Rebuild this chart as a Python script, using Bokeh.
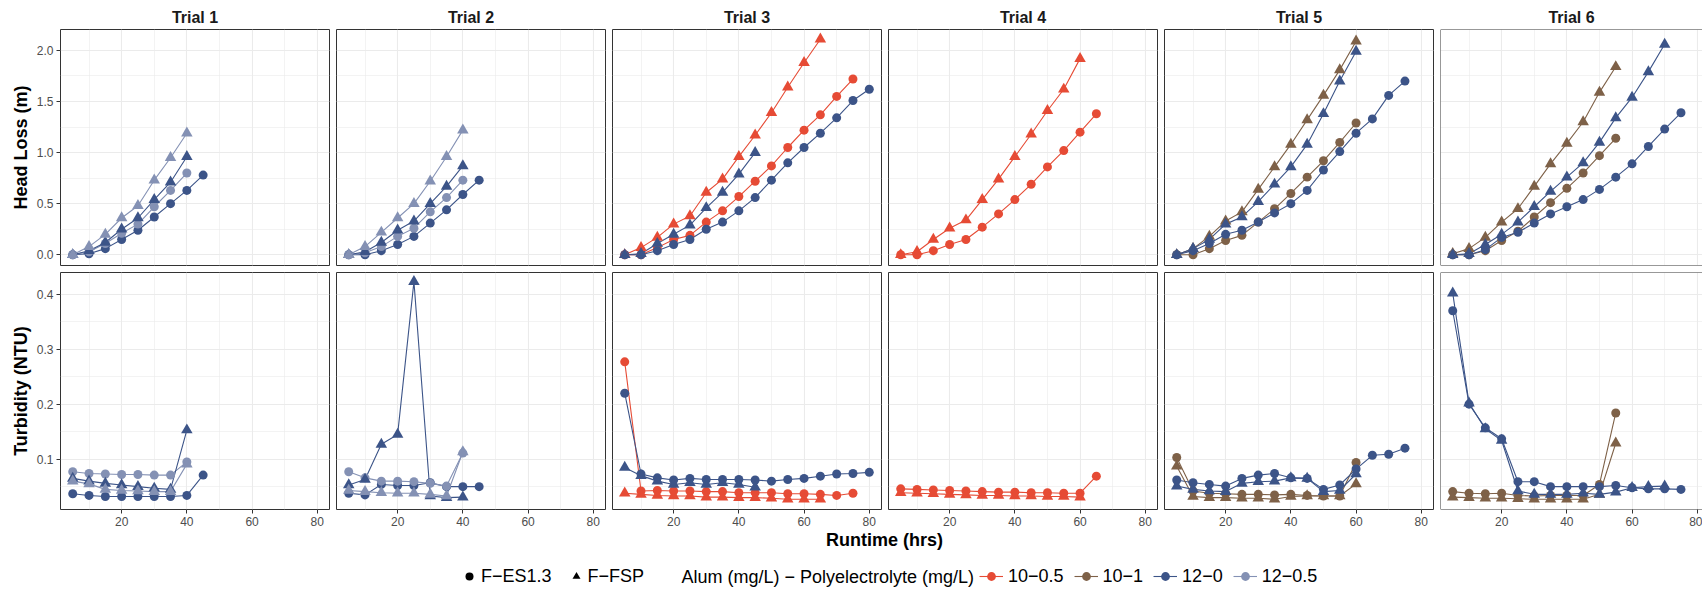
from bokeh.plotting import figure
from bokeh.layouts import column, row
from bokeh.models import (Range1d, LinearAxis, Grid, FixedTicker, PrintfTickFormatter,
                          Span, Label, Legend, LegendItem)
from bokeh.embed import file_html
from bokeh.resources import INLINE

FONT = "Liberation Sans"

# ---------------- data ----------------
RUNTIME = [5, 10, 15, 20, 25, 30, 35, 40, 45, 50, 55, 60, 65, 70, 75, 80]
TRIALS = ["Trial 1", "Trial 2", "Trial 3", "Trial 4", "Trial 5", "Trial 6"]
FILTERS = ["F\u2212ES1.3", "F\u2212FSP"]
FILTER_MARKERS = ["circle", "triangle"]
DOSES = ["10\u22120.5", "10\u22121", "12\u22120", "12\u22120.5"]
DOSE_COLORS = ["#E64B35", "#7E6148", "#3C5488", "#8491B4"]
HL_TICKS = [0.0, 0.5, 1.0, 1.5, 2.0]
HL_MINOR = [0.25, 0.75, 1.25, 1.75]
TURB_TICKS = [0.1, 0.2, 0.3, 0.4]
TURB_MINOR = [0.05, 0.15, 0.25, 0.35]
TIME_TICKS = [20, 40, 60, 80]
TIME_MINOR = [10, 30, 50, 70]
ROW_TITLES = ["Head Loss (m)", "Turbidity (NTU)"]
X_TITLE = "Runtime (hrs)"
LEGEND_TITLE = "Alum (mg/L) \u2212 Polyelectrolyte (mg/L)"

# Trial 1
T1_HL_ES_12_0 = [0.0, 0.01, 0.06, 0.15, 0.24, 0.37, 0.50, 0.63, 0.78]
T1_HL_ES_12_05 = [0.0, 0.03, 0.11, 0.21, 0.30, 0.47, 0.63, 0.80]
T1_HL_FSP_12_0 = [0.0, 0.04, 0.12, 0.25, 0.36, 0.54, 0.71, 0.96]
T1_HL_FSP_12_05 = [0.0, 0.08, 0.20, 0.36, 0.48, 0.73, 0.95, 1.19]
T1_TU_ES_12_0 = [0.037, 0.034, 0.032, 0.032, 0.032, 0.032, 0.032, 0.034, 0.071]
T1_TU_ES_12_05 = [0.077, 0.074, 0.073, 0.072, 0.072, 0.071, 0.071, 0.095]
T1_TU_FSP_12_0 = [0.065, 0.060, 0.056, 0.053, 0.050, 0.047, 0.045, 0.153]
T1_TU_FSP_12_05 = [0.060, 0.055, 0.045, 0.043, 0.042, 0.041, 0.041, 0.091]
# Trial 2
T2_HL_ES_12_0 = [0.0, 0.0, 0.04, 0.10, 0.18, 0.31, 0.44, 0.59, 0.73]
T2_HL_ES_12_05 = [0.0, 0.02, 0.08, 0.18, 0.26, 0.42, 0.56, 0.73]
T2_HL_FSP_12_0 = [0.0, 0.03, 0.12, 0.24, 0.33, 0.50, 0.67, 0.87]
T2_HL_FSP_12_05 = [0.0, 0.08, 0.22, 0.36, 0.50, 0.72, 0.96, 1.22]
T2_TU_ES_12_0 = [0.038, 0.035, 0.054, 0.052, 0.052, 0.057, 0.050, 0.050, 0.050]
T2_TU_ES_12_05 = [0.077, 0.066, 0.060, 0.060, 0.059, 0.056, 0.051, 0.111]
T2_TU_FSP_12_0 = [0.053, 0.063, 0.127, 0.145, 0.423, 0.033, 0.030, 0.031]
T2_TU_FSP_12_05 = [0.043, 0.041, 0.039, 0.038, 0.038, 0.036, 0.033, 0.113]
# Trial 3
T3_HL_ES_10_05 = [0.0, 0.0, 0.07, 0.15, 0.19, 0.32, 0.43, 0.57, 0.72, 0.87, 1.05, 1.22, 1.37, 1.55, 1.72]
T3_HL_ES_12_0 = [0.0, 0.0, 0.04, 0.10, 0.15, 0.25, 0.32, 0.43, 0.56, 0.73, 0.90, 1.05, 1.19, 1.34, 1.51, 1.62]
T3_HL_FSP_10_05 = [0.0, 0.07, 0.17, 0.30, 0.38, 0.61, 0.74, 0.96, 1.17, 1.39, 1.64, 1.88, 2.11]
T3_HL_FSP_12_0 = [0.0, 0.01, 0.11, 0.20, 0.29, 0.46, 0.61, 0.79, 1.00]
T3_TU_ES_10_05 = [0.277, 0.042, 0.043, 0.042, 0.042, 0.041, 0.041, 0.039, 0.039, 0.039, 0.037, 0.037, 0.036, 0.034, 0.038]
T3_TU_ES_12_0 = [0.220, 0.073, 0.066, 0.062, 0.065, 0.063, 0.063, 0.063, 0.062, 0.060, 0.063, 0.065, 0.069, 0.073, 0.074, 0.076]
T3_TU_FSP_10_05 = [0.038, 0.036, 0.034, 0.033, 0.033, 0.031, 0.031, 0.030, 0.030, 0.029, 0.027, 0.027, 0.027]
T3_TU_FSP_12_0 = [0.085, 0.070, 0.060, 0.054, 0.057, 0.054, 0.057, 0.054, 0.049]
# Trial 4
T4_HL_ES_10_05 = [0.0, 0.0, 0.04, 0.10, 0.15, 0.27, 0.40, 0.54, 0.69, 0.86, 1.02, 1.20, 1.38]
T4_HL_FSP_10_05 = [0.0, 0.03, 0.15, 0.26, 0.34, 0.54, 0.74, 0.96, 1.18, 1.41, 1.62, 1.92]
T4_TU_ES_10_05 = [0.046, 0.045, 0.044, 0.043, 0.042, 0.041, 0.040, 0.040, 0.039, 0.039, 0.038, 0.038, 0.069]
T4_TU_FSP_10_05 = [0.039, 0.038, 0.037, 0.036, 0.035, 0.034, 0.034, 0.033, 0.033, 0.032, 0.032, 0.031]
# Trial 5
T5_HL_ES_10_1 = [0.0, 0.0, 0.06, 0.14, 0.19, 0.32, 0.45, 0.60, 0.76, 0.92, 1.10, 1.29]
T5_HL_ES_12_0 = [0.0, 0.04, 0.11, 0.20, 0.24, 0.32, 0.41, 0.50, 0.63, 0.83, 1.01, 1.19, 1.33, 1.56, 1.70]
T5_HL_FSP_10_1 = [0.0, 0.06, 0.18, 0.33, 0.42, 0.64, 0.86, 1.08, 1.32, 1.56, 1.81, 2.09]
T5_HL_FSP_12_0 = [0.0, 0.06, 0.15, 0.30, 0.37, 0.52, 0.69, 0.86, 1.08, 1.38, 1.70, 1.99]
T5_TU_ES_10_1 = [0.103, 0.042, 0.038, 0.037, 0.036, 0.036, 0.035, 0.036, 0.034, 0.033, 0.033, 0.094]
T5_TU_ES_12_0 = [0.062, 0.057, 0.054, 0.051, 0.065, 0.071, 0.074, 0.066, 0.065, 0.045, 0.053, 0.082, 0.107, 0.109, 0.120]
T5_TU_FSP_10_1 = [0.087, 0.032, 0.030, 0.030, 0.029, 0.029, 0.027, 0.032, 0.033, 0.033, 0.033, 0.055]
T5_TU_FSP_12_0 = [0.051, 0.045, 0.042, 0.041, 0.056, 0.059, 0.060, 0.066, 0.065, 0.041, 0.043, 0.073]
# Trial 6
T6_HL_ES_10_1 = [0.0, 0.0, 0.04, 0.14, 0.23, 0.37, 0.51, 0.65, 0.80, 0.97, 1.14]
T6_HL_ES_12_0 = [0.0, 0.0, 0.05, 0.17, 0.22, 0.31, 0.40, 0.47, 0.54, 0.64, 0.76, 0.89, 1.06, 1.23, 1.39]
T6_HL_FSP_10_1 = [0.01, 0.06, 0.17, 0.32, 0.45, 0.67, 0.89, 1.09, 1.30, 1.59, 1.84]
T6_HL_FSP_12_0 = [0.0, 0.01, 0.10, 0.20, 0.32, 0.47, 0.62, 0.76, 0.90, 1.10, 1.34, 1.54, 1.79, 2.06]
T6_TU_ES_10_1 = [0.041, 0.038, 0.037, 0.038, 0.034, 0.033, 0.034, 0.034, 0.034, 0.054, 0.184]
T6_TU_ES_12_0 = [0.370, 0.200, 0.157, 0.137, 0.059, 0.059, 0.050, 0.050, 0.050, 0.050, 0.052, 0.048, 0.046, 0.046, 0.045]
T6_TU_FSP_10_1 = [0.031, 0.030, 0.029, 0.029, 0.028, 0.027, 0.027, 0.027, 0.027, 0.036, 0.129]
T6_TU_FSP_12_0 = [0.402, 0.202, 0.155, 0.134, 0.042, 0.036, 0.036, 0.036, 0.038, 0.036, 0.040, 0.048, 0.050, 0.051]

# (trial index, row: 0 head loss / 1 turbidity, filter index, dose index, values)
SERIES = [
    (0, 0, 0, 2, T1_HL_ES_12_0), (0, 0, 0, 3, T1_HL_ES_12_05),
    (0, 0, 1, 2, T1_HL_FSP_12_0), (0, 0, 1, 3, T1_HL_FSP_12_05),
    (0, 1, 0, 2, T1_TU_ES_12_0), (0, 1, 0, 3, T1_TU_ES_12_05),
    (0, 1, 1, 2, T1_TU_FSP_12_0), (0, 1, 1, 3, T1_TU_FSP_12_05),
    (1, 0, 0, 2, T2_HL_ES_12_0), (1, 0, 0, 3, T2_HL_ES_12_05),
    (1, 0, 1, 2, T2_HL_FSP_12_0), (1, 0, 1, 3, T2_HL_FSP_12_05),
    (1, 1, 0, 2, T2_TU_ES_12_0), (1, 1, 0, 3, T2_TU_ES_12_05),
    (1, 1, 1, 2, T2_TU_FSP_12_0), (1, 1, 1, 3, T2_TU_FSP_12_05),
    (2, 0, 0, 0, T3_HL_ES_10_05), (2, 0, 0, 2, T3_HL_ES_12_0),
    (2, 0, 1, 0, T3_HL_FSP_10_05), (2, 0, 1, 2, T3_HL_FSP_12_0),
    (2, 1, 0, 0, T3_TU_ES_10_05), (2, 1, 0, 2, T3_TU_ES_12_0),
    (2, 1, 1, 0, T3_TU_FSP_10_05), (2, 1, 1, 2, T3_TU_FSP_12_0),
    (3, 0, 0, 0, T4_HL_ES_10_05), (3, 0, 1, 0, T4_HL_FSP_10_05),
    (3, 1, 0, 0, T4_TU_ES_10_05), (3, 1, 1, 0, T4_TU_FSP_10_05),
    (4, 0, 0, 1, T5_HL_ES_10_1), (4, 0, 0, 2, T5_HL_ES_12_0),
    (4, 0, 1, 1, T5_HL_FSP_10_1), (4, 0, 1, 2, T5_HL_FSP_12_0),
    (4, 1, 0, 1, T5_TU_ES_10_1), (4, 1, 0, 2, T5_TU_ES_12_0),
    (4, 1, 1, 1, T5_TU_FSP_10_1), (4, 1, 1, 2, T5_TU_FSP_12_0),
    (5, 0, 0, 1, T6_HL_ES_10_1), (5, 0, 0, 2, T6_HL_ES_12_0),
    (5, 0, 1, 1, T6_HL_FSP_10_1), (5, 0, 1, 2, T6_HL_FSP_12_0),
    (5, 1, 0, 1, T6_TU_ES_10_1), (5, 1, 0, 2, T6_TU_ES_12_0),
    (5, 1, 1, 1, T6_TU_FSP_10_1), (5, 1, 1, 2, T6_TU_FSP_12_0),
]

# ---------------- styling / layout ----------------
GRID_COLOR = "#EBEBEB"
BORDER_COLOR = "#333333"
X_START, X_END, FULL_W = 1.25, 83.75, 269
Y_LIMITS = [(-0.105, 2.205), (0.0084, 0.4396)]
Y_TICKS = [(HL_TICKS, HL_MINOR), (TURB_TICKS, TURB_MINOR)]
MARKER_SIZES = {"circle": 9, "triangle": 11.5}
NAN = float("nan")


def make_panel(r, c):
    last = c == len(TRIALS) - 1
    fw = 262 if last else FULL_W
    fh = 236 if r == 0 else 237
    x_end = X_START + fw * (X_END - X_START) / FULL_W
    p = figure(frame_width=fw, frame_height=fh,
               x_range=Range1d(X_START, x_end), y_range=Range1d(*Y_LIMITS[r]),
               x_axis_location=None, y_axis_location=None,
               toolbar_location=None, output_backend="svg",
               min_border_left=60 if c == 0 else 4,
               min_border_right=0 if last else 3,
               min_border_top=29 if r == 0 else 4,
               min_border_bottom=3 if r == 0 else 20,
               title=TRIALS[c] if r == 0 else None)
    p.grid.visible = False
    p.background_fill_color = "white"
    p.border_fill_color = "white"
    if r == 0:
        p.title.align = "center"
        p.title.text_font = FONT
        p.title.text_font_size = "16px"
        p.title.text_font_style = "bold"
        p.title.text_color = "#1A1A1A"
        p.title.standoff = 7
    ticks, minor = Y_TICKS[r]
    p.add_layout(Grid(dimension=0, ticker=FixedTicker(ticks=TIME_TICKS, minor_ticks=TIME_MINOR),
                      grid_line_color=GRID_COLOR, grid_line_width=1.1,
                      minor_grid_line_color=GRID_COLOR, minor_grid_line_width=0.6))
    p.add_layout(Grid(dimension=1, ticker=FixedTicker(ticks=ticks, minor_ticks=minor),
                      grid_line_color=GRID_COLOR, grid_line_width=1.1,
                      minor_grid_line_color=GRID_COLOR, minor_grid_line_width=0.6))

    def style_axis(ax):
        ax.axis_line_color = None
        ax.major_tick_line_color = BORDER_COLOR
        ax.major_tick_out = 4
        ax.major_tick_in = 0
        ax.minor_tick_line_color = None
        ax.major_label_text_font = FONT
        ax.major_label_text_font_size = "12px"
        ax.major_label_text_color = "#4D4D4D"
        ax.major_label_standoff = 3
        ax.axis_label_text_font = FONT
        ax.axis_label_text_font_size = "18px"
        ax.axis_label_text_font_style = "bold"
        ax.axis_label_text_color = "black"

    if c == 0:
        ay = LinearAxis(ticker=FixedTicker(ticks=ticks),
                        formatter=PrintfTickFormatter(format="%.1f"),
                        axis_label=ROW_TITLES[r])
        style_axis(ay)
        ay.axis_label_standoff = 3
        p.add_layout(ay, "left")
    if r == 1:
        ax = LinearAxis(ticker=FixedTicker(ticks=TIME_TICKS))
        style_axis(ax)
        p.add_layout(ax, "below")

    if last:
        p.outline_line_color = None
        for loc, dim in [(X_START, "height"), (Y_LIMITS[r][0], "width"), (Y_LIMITS[r][1], "width")]:
            p.add_layout(Span(location=loc, dimension=dim, line_color=BORDER_COLOR, line_width=1))
    else:
        p.outline_line_color = BORDER_COLOR
        p.outline_line_width = 1

    mine = [s for s in SERIES if s[0] == c and s[1] == r]
    for _, _, fi, di, vals in mine:
        p.line(RUNTIME[:len(vals)], vals, line_color=DOSE_COLORS[di], line_width=1.1)
    for _, _, fi, di, vals in mine:
        mk = FILTER_MARKERS[fi]
        p.scatter(RUNTIME[:len(vals)], vals, marker=mk, size=MARKER_SIZES[mk],
                  fill_color=DOSE_COLORS[di], line_color=None)
    return p


rows = []
for r in range(2):
    rows.append(row(*[make_panel(r, c) for c in range(len(TRIALS))]))

# ---------------- bottom strip: x title + legends ----------------
LEG_W, LEG_H = 1702, 60
leg = figure(frame_width=LEG_W, frame_height=LEG_H, x_range=Range1d(0, LEG_W),
             y_range=Range1d(LEG_H, 0), x_axis_location=None, y_axis_location=None,
             toolbar_location=None, output_backend="svg", min_border=0, title=None)
leg.grid.visible = False
leg.outline_line_color = None
leg.add_layout(Label(x=884, y=0, text=X_TITLE, text_align="center", text_baseline="top",
                     text_font=FONT, text_font_size="18px", text_font_style="bold",
                     text_color="black"))
leg.add_layout(Label(x=681, y=47, text=LEGEND_TITLE, text_align="left", text_baseline="middle",
                     text_font=FONT, text_font_size="18px", text_color="black"))

shape_items = []
for f, mk in zip(FILTERS, FILTER_MARKERS):
    rr = leg.scatter(x=[NAN], y=[NAN], marker=mk, size=MARKER_SIZES[mk],
                     fill_color="black", line_color=None)
    shape_items.append(LegendItem(label=f, renderers=[rr]))
color_items = []
for d, col in zip(DOSES, DOSE_COLORS):
    rl = leg.line(x=[NAN, NAN], y=[NAN, NAN], line_color=col, line_width=1.1)
    rp = leg.scatter(x=[NAN], y=[NAN], marker="circle", size=9, fill_color=col, line_color=None)
    color_items.append(LegendItem(label=d, renderers=[rl, rp]))


def mk_legend(items, loc, gw, standoff, spacing):
    lg = Legend(items=items, orientation="horizontal", location=loc,
                glyph_width=gw, glyph_height=22, label_height=22, label_width=0,
                label_standoff=standoff, spacing=spacing, padding=0, margin=0,
                border_line_color=None, background_fill_alpha=0,
                label_text_font=FONT, label_text_font_size="18px", label_text_color="black")
    return lg


leg.add_layout(mk_legend(shape_items, (459, 2), 20, 2, 14))
leg.add_layout(mk_legend(color_items, (979, 2), 24, 5, 10))

layout = column(rows[0], rows[1], leg)
open("out.html", "w").write(file_html(layout, INLINE))
